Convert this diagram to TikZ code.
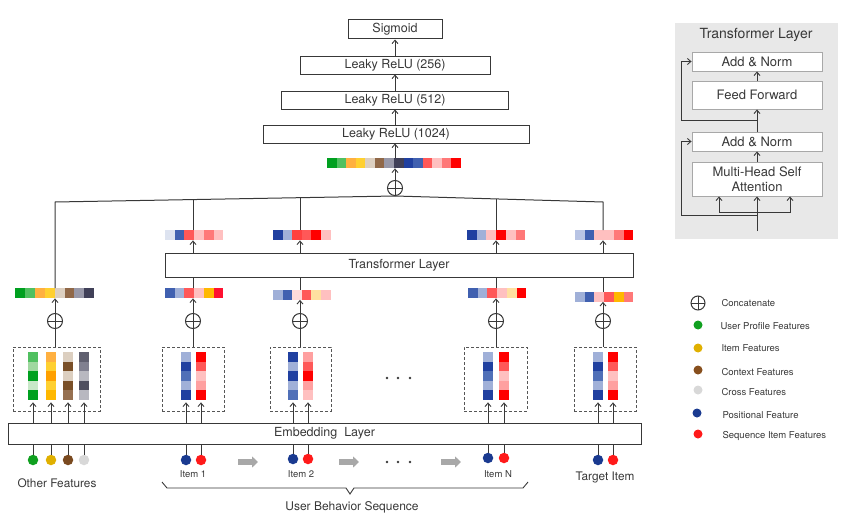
\documentclass[tikz,border=0pt]{standalone}
\usepackage{fontspec}
\setmainfont{TeX Gyre Heros}
\usetikzlibrary{arrows.meta,calc}
\definecolor{lc}{HTML}{383838}
\definecolor{panelgray}{HTML}{E8E8E8}
\definecolor{pbox}{HTML}{A8A8A8}
\definecolor{garrow}{HTML}{A8A8A8}
\definecolor{g1}{HTML}{00A020}
\definecolor{g2}{HTML}{50C060}
\definecolor{g3}{HTML}{A0D8A0}
\definecolor{g4}{HTML}{C8E8C8}
\definecolor{o1}{HTML}{FFB040}
\definecolor{o2}{HTML}{FFD030}
\definecolor{o3}{HTML}{FFA000}
\definecolor{o4}{HTML}{FFB800}
\definecolor{oy}{HTML}{FFE0A0}
\definecolor{b1}{HTML}{DCCFC0}
\definecolor{b2}{HTML}{7A5028}
\definecolor{b3}{HTML}{967050}
\definecolor{b4}{HTML}{906848}
\definecolor{gr1}{HTML}{9898A8}
\definecolor{gr2}{HTML}{404058}
\definecolor{gr3}{HTML}{B8B8C0}
\definecolor{gr4}{HTML}{606070}
\definecolor{gr5}{HTML}{808090}
\definecolor{gr6}{HTML}{505060}
\definecolor{bl1}{HTML}{2040A0}
\definecolor{bl2}{HTML}{4060B0}
\definecolor{bl3}{HTML}{A0B0D8}
\definecolor{bl4}{HTML}{5070B8}
\definecolor{bl5}{HTML}{DDE3F0}
\definecolor{bl6}{HTML}{B8C4E4}
\definecolor{r1}{HTML}{FF0000}
\definecolor{r2}{HTML}{FF5858}
\definecolor{r3}{HTML}{FFC0C0}
\definecolor{r4}{HTML}{FF7878}
\definecolor{r5}{HTML}{FFA0A0}
\definecolor{r6}{HTML}{FF4040}
\definecolor{r7}{HTML}{FFDADA}
\definecolor{r8}{HTML}{FF1030}
\definecolor{dgreen}{HTML}{10A020}
\definecolor{dyellow}{HTML}{E0B000}
\definecolor{dbrown}{HTML}{7A4A20}
\definecolor{dgray}{HTML}{D8D8D8}
\definecolor{dblue}{HTML}{1A3A90}
\definecolor{dred}{HTML}{FF1A1A}
\newcommand\hstrip[6]{%
  \node[inner sep=0pt, minimum width={(#4)*(#5)*1pt}, minimum height=10pt, anchor=north west] (#1) at (#2,#3) {};
  \foreach \c [count=\i from 0] in {#6} \fill[\c] ($(#1.north west)+(\i*#5,0)$) rectangle ++(#5,10);
}
\newcommand\vstrip[4]{%
  \node[inner sep=0pt, minimum width=10pt, minimum height=48pt, anchor=north] (#1) at (#2,#3) {};
  \foreach \c [count=\i from 0] in {#4} \fill[\c] ($(#1.north west)+(0,\i*9.6)$) rectangle ++(10,9.6);
}
\tikzset{
  ln/.style={draw=lc, line width=1pt},
  arr/.style={ln, -{Straight Barb[length=3.5pt,width=6pt,line width=0.9pt]}},
  lbox/.style={draw=lc, line width=1pt, fill=white, inner sep=0pt, text=lc, font=\fontsize{12.5}{15}\selectfont},
  pbx/.style={draw=pbox, line width=0.9pt, fill=white, inner sep=0pt, text=lc, minimum width=130pt, align=center, font=\fontsize{13}{16}\selectfont},
  dbox/.style={draw=lc!85, line width=0.9pt, dash pattern=on 3pt off 2pt, inner sep=0pt, minimum height=64pt},
  oplus/.style={circle, draw=lc, line width=1pt, minimum size=15pt, inner sep=0pt,
    path picture={\draw[lc, line width=1pt] (path picture bounding box.north) -- (path picture bounding box.south) (path picture bounding box.west) -- (path picture bounding box.east);}},
  fdot/.style={circle, inner sep=0pt, minimum size=10.5pt},
  ldot/.style={circle, inner sep=0pt, minimum size=9pt},
  lgt/.style={anchor=west, text=lc, font=\fontsize{9.5}{11}\selectfont},
  itl/.style={text=lc, font=\fontsize{9.5}{11}\selectfont},
  bigl/.style={text=lc, font=\fontsize{11.8}{14}\selectfont},
  garr/.style={draw=garrow, line width=5.5pt, -{Triangle[length=6pt,width=11pt]}},
}
\begin{document}
\begin{tikzpicture}[x=1pt,y=-1pt]
\useasboundingbox (0,0) rectangle (851,519);

% ---------- top stack ----------
\node[lbox, minimum width=94pt, minimum height=19pt] (sig) at (395,29.5) {Sigmoid};
\node[lbox, minimum width=190pt, minimum height=17pt] (l256) at (395,65.5) {Leaky ReLU (256)};
\node[lbox, minimum width=227pt, minimum height=18pt] (l512) at (395,100) {Leaky ReLU (512)};
\node[lbox, minimum width=266pt, minimum height=18pt] (l1024) at (396,134) {Leaky ReLU (1024)};
\hstrip{mtop}{327}{158}{14}{9.57}{g1,g2,o1,o2,b1,b4,gr1,gr2,bl1,bl2,r2,r3,r4,r1}
\node[oplus] (otop) at (395,188) {};
\draw[arr] (otop) -- (otop |- mtop.south);
\draw[arr] (otop |- mtop.north) -- (otop |- l1024.south);
\draw[arr] (otop |- l1024.north) -- (otop |- l512.south);
\draw[arr] (otop |- l512.north) -- (otop |- l256.south);
\draw[arr] (otop |- l256.north) -- (otop |- sig.south);

% ---------- transformer & strips ----------
\node[lbox, minimum width=468pt, minimum height=24pt] (tr) at (399,265) {Transformer Layer};
\hstrip{out1}{165}{230}{6}{9.7}{bl5,bl2,r2,r3,r4,r3}
\hstrip{out2}{273}{230}{6}{9.6}{bl1,bl3,r6,r2,r1,r3}
\hstrip{outN}{467}{230}{6}{9.7}{bl1,bl3,r3,r1,r3,r4}
\hstrip{outT}{575}{230}{6}{9.7}{bl6,bl2,r3,r3,r4,r1}
\hstrip{in0}{15}{288}{8}{9.9}{g1,g2,o1,o2,b1,b4,gr1,gr2}
\hstrip{in1}{165}{288}{6}{9.7}{bl2,bl3,r2,r3,o4,r8}
\hstrip{in2}{273}{289.5}{6}{9.6}{bl3,bl2,r7,r2,oy,r3}
\hstrip{inN}{468}{288}{6}{9.7}{bl2,bl3,r2,r3,oy,r1}
\hstrip{inT}{575}{291.5}{6}{9.7}{bl3,bl2,r3,r2,o4,r4}

\node[oplus] (o0) at (55,321) {};
\node[oplus] (o1) at (193,321) {};
\node[oplus] (o2) at (300,321) {};
\node[oplus] (oN) at (496,321) {};
\node[oplus] (oT) at (603,321) {};

% dashed boxes
\node[dbox, minimum width=87pt] (bx0) at (56.5,379) {};
\node[dbox, minimum width=62pt] (bx1) at (193,379) {};
\node[dbox, minimum width=61pt] (bx2) at (300.5,379) {};
\node[dbox, minimum width=63pt] (bxN) at (495.5,379) {};
\node[dbox, minimum width=62pt] (bxT) at (605,379) {};

% bars
\vstrip{v01}{33}{352}{g2,g3,g1,g4,g1}
\vstrip{v02}{51}{352}{o1,o2,o3,o2,o4}
\vstrip{v03}{68}{352}{b1,b2,b1,b2,b3}
\vstrip{v04}{84}{352}{gr4,gr5,gr3,gr6,gr3}
\vstrip{v11}{186}{352}{bl3,bl1,bl4,bl3,bl1}
\vstrip{v12}{201}{352}{r1,r2,r3,r5,r1}
\vstrip{v21}{293}{352}{bl1,bl3,bl1,bl3,bl4}
\vstrip{v22}{308}{352}{r5,r2,r1,r5,r3}
\vstrip{vN1}{488}{352}{bl3,bl1,bl4,bl3,bl1}
\vstrip{vN2}{504}{352}{r1,r2,r3,r5,r1}
\vstrip{vT1}{598}{352}{bl3,bl1,bl4,bl3,bl1}
\vstrip{vT2}{613}{352}{r1,r2,r3,r5,r1}

% ellipsis between boxes
\foreach \xx in {387,398,410} \fill[lc] (\xx,378) circle (1.3);

% embedding
\node[lbox, minimum width=633pt, minimum height=21pt] (emb) at (324.5,433.5) {Embedding\ \ Layer};

% dots
\node[fdot, fill=dgreen] (d01) at (33,460) {};
\node[fdot, fill=dyellow] (d02) at (51,460) {};
\node[fdot, fill=dbrown] (d03) at (68,460) {};
\node[fdot, fill=dgray] (d04) at (84,460) {};
\node[fdot, fill=dblue] (d11) at (186,460) {};
\node[fdot, fill=dred] (d12) at (201,460) {};
\node[fdot, fill=dblue] (d21) at (293,459) {};
\node[fdot, fill=dred] (d22) at (308,459) {};
\node[fdot, fill=dblue] (dN1) at (488,458) {};
\node[fdot, fill=dred] (dN2) at (504,458) {};
\node[fdot, fill=dblue] (dT1) at (598,460) {};
\node[fdot, fill=dred] (dT2) at (613,460) {};

\foreach \d/\v in {d01/v01,d02/v02,d03/v03,d04/v04,d11/v11,d12/v12,d21/v21,d22/v22,dN1/vN1,dN2/vN2,dT1/vT1,dT2/vT2}{
  \draw[ln] (\d) -- (\d |- emb.south);
  \draw[arr] (\d |- emb.north) -- ([yshift=-2pt]\d |- \v.south);
}

% concat connections
\foreach \o/\b/\i in {o0/bx0/in0,o1/bx1/in1,o2/bx2/in2,oN/bxN/inN,oT/bxT/inT}{
  \draw[ln] (\o |- \b.north) -- (\o);
  \draw[arr] (\o) -- (\o |- \i.south);
}
\foreach \o/\i/\s in {o1/in1/out1,o2/in2/out2,oN/inN/outN,oT/inT/outT}{
  \draw[ln] (\o |- \i.north) -- (\o |- tr.south);
  \draw[arr] (\o |- tr.north) -- (\o |- \s.south);
}
\coordinate (cL) at (55,202);
\coordinate (cR) at (603,202);
\coordinate (m1) at (193,199.4);
\coordinate (m2) at (300,197.3);
\coordinate (mN) at (496,198.7);
\draw[ln] (o0 |- in0.north) -- (cL) -- (otop.south);
\draw[ln] (oT |- outT.north) -- (cR) -- (otop.south);
\draw[ln] (o1 |- out1.north) -- (m1);
\draw[ln] (o2 |- out2.north) -- (m2);
\draw[ln] (oN |- outN.north) -- (mN);

% bottom labels
\node[bigl] (lof) at (57,483) {Other Features};
\node[itl] (li1) at (193,474) {Item 1};
\node[itl] (li2) at (301,474) {Item 2};
\node[itl] (liN) at (498,474) {Item N};
\node[bigl] (ltg) at (605,477) {Target Item};
\draw[garr] (238,462) -- (258,462);
\draw[garr] (339,462) -- (359,462);
\draw[garr] (441,462) -- (461,462);
\foreach \xx in {387,398,410} \fill[lc] (\xx,462) circle (1.3);
\draw[draw=lc, line width=0.9pt] (162,482) -- (167,488) -- (346,488) -- (350,494) -- (354,488) -- (523,488) -- (528,482);
\node[text=lc, font=\fontsize{12}{14}\selectfont] (lubs) at (352,507) {User Behavior Sequence};

% ---------- legend ----------
\node[oplus, minimum size=14pt] (lgo) at (698,303) {};
\node[lgt] at (718,303) {Concatenate};
\node[ldot, fill=dgreen] (lg1) at (698,325) {};
\node[lgt] at (717,326) {User Profile Features};
\node[ldot, fill=dyellow] (lg2) at (698,348) {};
\node[lgt] at (718,348) {Item Features};
\node[ldot, fill=dbrown!90!orange] (lg3) at (698,370) {};
\node[lgt] at (718,372) {Context Features};
\node[ldot, fill=dgray] (lg4) at (698,390) {};
\node[lgt] at (718,392) {Cross Features};
\node[ldot, fill=dblue] (lg5) at (697,413) {};
\node[lgt] at (719,415) {Positional Feature};
\node[ldot, fill=dred] (lg6) at (698,434) {};
\node[lgt] at (719,436) {Sequence Item Features};

% ---------- transformer panel ----------
\node[fill=panelgray, inner sep=0pt, minimum width=163pt, minimum height=216pt, anchor=north west] (panel) at (675,23) {};
\node[text=lc, font=\fontsize{14}{16}\selectfont] (ptitle) at (756,35) {Transformer Layer};
\node[pbx, minimum height=19pt] (an1) at (757,61.5) {Add \& Norm};
\node[pbx, minimum height=28pt] (ff) at (757,95) {Feed Forward};
\node[pbx, minimum height=19pt] (an2) at (757,141.5) {Add \& Norm};
\node[pbx, minimum height=34pt, font=\fontsize{13}{15}\selectfont] (mh) at (757,179) {Multi-Head Self\\Attention};
\draw[arr] (ff.north) -- (an1.south);
\draw[arr] (an2.north) -- (ff.south);
\draw[arr] (mh.north) -- (an2.south);
\coordinate (pin) at (757,231);
\coordinate (pbr) at (757,212);
\coordinate (pr1) at (757,215);
\coordinate (pr2) at (757,120);
\draw[arr] (pin) -- (mh.south);
\draw[arr] (pbr) -| ([xshift=-38pt]mh.south);
\draw[arr] (pbr) -| ([xshift=33pt]mh.south);
\draw[arr] (pr1) -| ([xshift=-10pt]an2.west) -- (an2.west);
\draw[arr] (pr2) -| ([xshift=-10pt]an1.west) -- (an1.west);
\end{tikzpicture}
\end{document}
